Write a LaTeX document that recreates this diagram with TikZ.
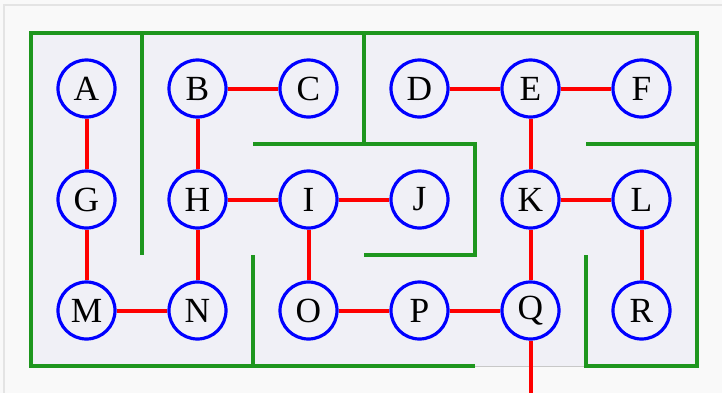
\documentclass[tikz,border=0pt]{standalone}
\usepackage{fontspec}
\setmainfont{Liberation Serif}
\definecolor{pagebg}{HTML}{F9F9F9}
\definecolor{framegray}{HTML}{E4E4E4}
\definecolor{mazebg}{HTML}{F0F0F6}
\definecolor{mazeedge}{HTML}{C8C8C8}
\definecolor{wallgreen}{HTML}{1E961E}
\begin{document}
\begin{tikzpicture}[x=0.75pt,y=-0.75pt,
  wall/.style={draw=wallgreen,line width=3pt,line join=miter},
  room/.style={circle,draw=blue,line width=2.4pt,fill=mazebg,minimum size=42.75pt,inner sep=0pt,
    font=\fontsize{26.5}{30}\selectfont},
  link/.style={draw=red,line width=3pt}]
  \useasboundingbox (0,0) rectangle (722,393);
  \fill[pagebg] (0,0) rectangle (722,393);
  \draw[framegray,line width=1.2pt] (722,5) -- (4,5) -- (4,393);
  \filldraw[fill=mazebg,draw=mazeedge,line width=0.75pt] (31,33) rectangle (697,366);
  % walls
  \draw[wall] (475,366) -- (31,366) -- (31,33) -- (697,33) -- (697,366) -- (586,366) -- (586,255);
  \draw[wall] (142,33) -- (142,255);
  \draw[wall] (364,33) -- (364,144);
  \draw[wall] (253,144) -- (475,144) -- (475,255) -- (364,255);
  \draw[wall] (253,255) -- (253,366);
  \draw[wall] (586,144) -- (697,144);
  % rooms
  \node[room] (A) at (86.5,88.5) {A};
  \node[room] (B) at (197.5,88.5) {B};
  \node[room] (C) at (308.5,88.5) {C};
  \node[room] (D) at (419.5,88.5) {D};
  \node[room] (E) at (530.5,88.5) {E};
  \node[room] (F) at (641.5,88.5) {F};
  \node[room] (G) at (86.5,199.5) {G};
  \node[room] (H) at (197.5,199.5) {H};
  \node[room] (I) at (308.5,199.5) {I};
  \node[room] (J) at (419.5,199.5) {J};
  \node[room] (K) at (530.5,199.5) {K};
  \node[room] (L) at (641.5,199.5) {L};
  \node[room] (M) at (86.5,310.5) {M};
  \node[room] (N) at (197.5,310.5) {N};
  \node[room] (O) at (308.5,310.5) {O};
  \node[room] (P) at (419.5,310.5) {P};
  \node[room] (Q) at (530.5,310.5) {Q};
  \node[room] (R) at (641.5,310.5) {R};
  \coordinate (exit) at (530.5,393);
  % links
  \draw[link] (A) -- (G);
  \draw[link] (G) -- (M);
  \draw[link] (M) -- (N);
  \draw[link] (N) -- (H);
  \draw[link] (H) -- (B);
  \draw[link] (B) -- (C);
  \draw[link] (H) -- (I);
  \draw[link] (I) -- (J);
  \draw[link] (I) -- (O);
  \draw[link] (O) -- (P);
  \draw[link] (P) -- (Q);
  \draw[link] (Q) -- (K);
  \draw[link] (K) -- (L);
  \draw[link] (L) -- (R);
  \draw[link] (K) -- (E);
  \draw[link] (D) -- (E);
  \draw[link] (E) -- (F);
  \draw[link] (Q) -- (exit);
\end{tikzpicture}
\end{document}
